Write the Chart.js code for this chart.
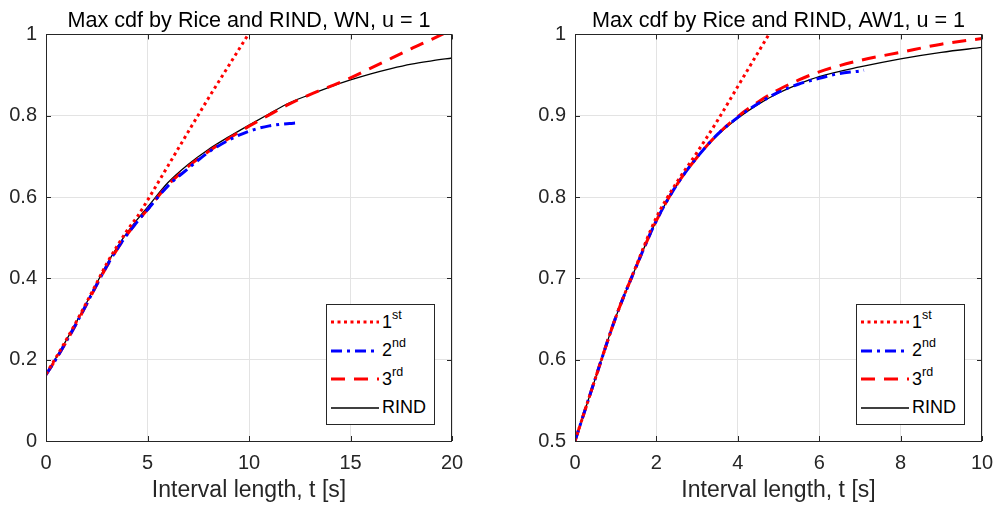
<!DOCTYPE html>
<html>
<head>
<meta charset="utf-8">
<script src="https://cdn.jsdelivr.net/npm/chart.js@4.4.1/dist/chart.umd.min.js"></script>
<style>
html,body{margin:0;padding:0;background:#fff;overflow:hidden;width:993px;height:506px;}
.wrap{position:absolute;top:0;height:506px;}
.legend{position:absolute;background:#fff;border:1px solid #262626;width:107px;height:116px;padding-top:3px;box-sizing:content-box;font-family:"Liberation Sans",Arial,sans-serif;font-size:18px;color:#000;}
.legend .row{height:28.5px;display:flex;align-items:center;}
.legend svg{margin-left:4px;margin-right:3px;}
.legend sup{font-size:12.5px;position:relative;top:-3px;vertical-align:top;line-height:1;}
</style>
</head>
<body>
<div class="wrap" id="w1" style="left:0;width:498px;"><canvas id="c1"></canvas></div>
<div class="wrap" id="w2" style="left:520px;width:484px;"><canvas id="c2"></canvas></div>
<script>
// labels
const names=["1","2","3","RIND"];
const sups=["st","nd","rd",""];

// WN, u = 1
const tWN=[0,0.5,1,1.5,2,2.5,3,3.5,4,4.5,5,6,7,8,9,10,11,12,13,14,15,16,17,18,19,20];
const rindWN=[0.165,0.205,0.248,0.293,0.34,0.388,0.435,0.476,0.513,0.545,0.575,0.635,0.68,0.717,0.748,0.777,0.805,0.832,0.852,0.871,0.888,0.903,0.916,0.927,0.935,0.942];
const t1WN=[0,0.5,1,1.5,2,2.5,3,3.5,4,4.5,5,6,7,8,9,10];
const rice1WN=[0.165,0.206,0.249,0.294,0.341,0.389,0.437,0.479,0.518,0.552,0.592,0.676,0.76,0.843,0.923,1.003];
const t2WN=[0,0.5,1,1.5,2,2.5,3,3.5,4,4.5,5,6,7,8,9,10,11,12,12.3];
const rice2WN=[0.163,0.202,0.245,0.29,0.337,0.385,0.431,0.472,0.508,0.54,0.569,0.627,0.67,0.71,0.74,0.762,0.775,0.781,0.782];
const rice3WN=[0.163,0.202,0.244,0.289,0.336,0.384,0.43,0.471,0.508,0.54,0.569,0.629,0.675,0.712,0.744,0.774,0.802,0.829,0.852,0.872,0.893,0.917,0.941,0.965,0.988,1.012];

// AW1, u = 1
const tAW=[0,0.5,1,1.5,2,2.5,3,3.5,4,4.5,5,5.5,6,7,8,9,10];
const rindAW=[0.5,0.577,0.652,0.714,0.771,0.815,0.849,0.876,0.897,0.914,0.928,0.939,0.948,0.96,0.97,0.978,0.984];
const t1AW=[0,0.5,1,1.5,2,2.5,3,3.5,4,4.5,4.8];
const rice1AW=[0.5,0.577,0.652,0.715,0.775,0.818,0.855,0.894,0.936,0.978,1.003];
const t2AW=[0,0.5,1,1.5,2,2.5,3,3.5,4,4.5,5,5.5,6,6.5,7,7.1];
const rice2AW=[0.5,0.577,0.652,0.714,0.771,0.815,0.849,0.877,0.898,0.915,0.929,0.939,0.946,0.952,0.955,0.956];
const rice3AW=[0.5,0.577,0.652,0.714,0.771,0.815,0.849,0.877,0.899,0.917,0.932,0.944,0.954,0.968,0.978,0.988,0.995];

const styles=[
{color:"#ff0000",width:3,dash:[3,3.5]},
{color:"#0000ff",width:3,dash:[11,5,3,5]},
{color:"#ff0000",width:3,dash:[14,9]},
{color:"#000000",width:1.3,dash:[]}
];

Chart.defaults.font.family='"Liberation Sans",Arial,sans-serif';
Chart.defaults.color="#262626";
Chart.defaults.animation=false;

function pts(xs,ys){return xs.map((x,i)=>({x:x,y:ys[i]}));}
function fmt(v){return String(Number(v.toFixed(2)));}

const boxPlugin={
id:"box",
afterDraw(chart){
const {ctx,chartArea:a,scales:{x,y}}=chart;
ctx.save();
ctx.strokeStyle="#262626";
ctx.lineWidth=1;
ctx.beginPath();
x.ticks.forEach(t=>{
const p=Math.round(x.getPixelForValue(t.value))+0.5;
ctx.moveTo(p,a.bottom);ctx.lineTo(p,a.bottom-5);
ctx.moveTo(p,a.top);ctx.lineTo(p,a.top+5);
});
y.ticks.forEach(t=>{
const p=Math.round(y.getPixelForValue(t.value))+0.5;
ctx.moveTo(a.left,p);ctx.lineTo(a.left+5,p);
ctx.moveTo(a.right,p);ctx.lineTo(a.right-5,p);
});
ctx.stroke();
ctx.strokeRect(Math.round(a.left)+0.5,Math.round(a.top)+0.5,Math.round(a.width)-1,Math.round(a.height));
ctx.restore();
}
};

function addLegend(chart,wrapId){
const a=chart.chartArea;
const lg=document.createElement("div");
lg.className="legend";
lg.style.left=(a.right-17-109)+"px";
lg.style.top=(a.bottom-18-119)+"px";
names.forEach((n,i)=>{
const s=styles[i];
const row=document.createElement("div");
row.className="row";
row.innerHTML='<svg width="48" height="10"><line x1="0" y1="5" x2="48" y2="5" stroke="'+s.color+'" stroke-width="'+s.width+'" stroke-dasharray="'+s.dash.join(",")+'"/></svg><span>'+n+(sups[i]?"<sup>"+sups[i]+"</sup>":"")+"</span>";
lg.appendChild(row);
});
document.getElementById(wrapId).appendChild(lg);
}

function makeChart(id,wrapId,title,series,xMax,xStep,yMin,yStep,yWidth,padRight){
const datasets=series.map((d,i)=>({
label:names[i]+sups[i],
data:d,
borderColor:styles[i].color,
borderWidth:styles[i].width,
borderDash:styles[i].dash,
pointRadius:0,
fill:false,
cubicInterpolationMode:"monotone",
clip:0
}));
const ch=new Chart(document.getElementById(id),{
type:"line",
data:{datasets:datasets},
options:{
responsive:true,
maintainAspectRatio:false,
layout:{padding:{left:0,right:padRight,top:0,bottom:0}},
plugins:{
legend:{display:false},
tooltip:{enabled:false},
title:{display:true,fullSize:false,text:title,color:"#000",font:{size:21.6,weight:"normal"},padding:{top:8,bottom:0.5}}
},
scales:{
x:{type:"linear",min:0,max:xMax,
ticks:{stepSize:xStep,font:{size:20},padding:10,color:"#262626",callback:fmt},
grid:{color:"#e3e3e3",drawTicks:false},
border:{display:false},
title:{display:true,text:"Interval length, t [s]",font:{size:23},color:"#262626",padding:{top:0,bottom:2}},
afterFit(s){s.height=65;}
},
y:{min:yMin,max:1,
ticks:{stepSize:yStep,font:{size:20},padding:9,color:"#262626",callback:fmt},
grid:{color:"#e3e3e3",drawTicks:false},
border:{display:false},
afterFit(s){s.width=yWidth;}
}
}
},
plugins:[boxPlugin]
});
addLegend(ch,wrapId);
return ch;
}

makeChart("c1","w1","Max cdf by Rice and RIND, WN, u = 1",
[pts(t1WN,rice1WN),pts(t2WN,rice2WN),pts(tWN,rice3WN),pts(tWN,rindWN)],
20,5,0,0.2,46,46);

makeChart("c2","w2","Max cdf by Rice and RIND, AW1, u = 1",
[pts(t1AW,rice1AW),pts(t2AW,rice2AW),pts(tAW,rice3AW),pts(tAW,rindAW)],
10,2,0.5,0.1,55,22);
</script>
</body>
</html>
